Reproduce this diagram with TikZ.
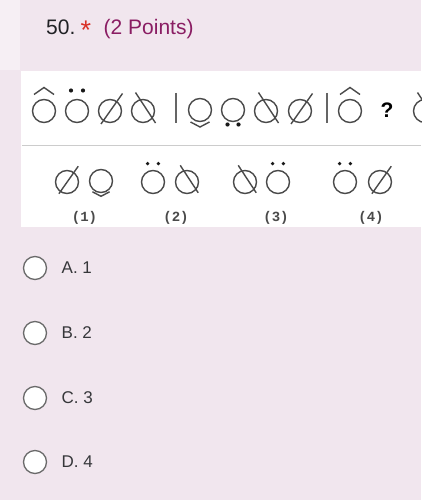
\documentclass[tikz,border=0pt]{standalone}
\usepackage{fontspec}
\usepackage{xcolor}
\setmainfont{Liberation Sans}
\newfontfamily\monofont{Liberation Mono}

\definecolor{pagebg}{HTML}{F1E6EE}
\definecolor{stripbg}{HTML}{F6EFF4}
\definecolor{inkgray}{HTML}{4A4A4A}
\definecolor{titleink}{HTML}{202124}
\definecolor{starred}{HTML}{D93025}
\definecolor{pointsink}{HTML}{8A1D63}
\definecolor{radiogray}{HTML}{6A6A6A}

\tikzset{
    sym/.style={draw=inkgray, line width=1.4pt},
    dot/.style={fill=black!90},
    sep/.style={draw=inkgray!85, line width=1.5pt},
    ring/.pic={\draw[sym] (0,0) circle (11.5);},
    hatring/.pic={\pic{ring}; \draw[sym] (-10,-16.5) -- (0,-23.5) -- (10,-16.5);},
    dotring/.pic={\pic{ring}; \fill[dot] (-6,-20.5) circle (2.1pt) (6,-20.5) circle (2.1pt);},
    slashring/.pic={\pic{ring}; \draw[sym] (-9,13) -- (12.5,-17.5);},
    bslashring/.pic={\pic{ring}; \draw[sym] (-7.5,-18.5) -- (12.5,12);},
    chinring/.pic={\pic{ring}; \draw[sym] (-9.5,12) -- (0,17) -- (9.5,12);},
    footring/.pic={\pic{ring}; \fill[dot] (-5.5,14.5) circle (2.1pt) (5.5,14.5) circle (2.1pt);},
    small/.style={scale=0.9},
    radio/.style={circle, draw=radiogray, fill=white, line width=1.3pt, minimum size=23pt, inner sep=0pt},
    opt/.style={anchor=west, inner sep=0pt, text=titleink!90, font=\fontsize{17}{20}\selectfont},
    tag/.style={inner sep=0pt, text=inkgray, font=\monofont\bfseries\fontsize{14}{16}\selectfont},
}

\begin{document}
\begin{tikzpicture}[x=1pt, y=-1pt]
    \useasboundingbox (0,0) rectangle (421,500);
    % page background
    \fill[pagebg] (0,0) rectangle (421,500);
    \fill[stripbg] (0,0) rectangle (20,70);

    % question header
    \node[anchor=base west, inner sep=0pt, text=titleink, font=\fontsize{21}{25}\selectfont] (qnum) at (46,34.5) {50.};
    \node[anchor=base west, inner sep=0pt, text=starred, font=\fontsize{27}{30}\selectfont] (star) at (80.5,39.5) {*};
    \node[anchor=base west, inner sep=0pt, text=pointsink, font=\fontsize{21}{25}\selectfont] (pts) at (103.5,34.5) {(2 Points)};

    % picture panel
    \fill[white] (21,71) rectangle (421,227);
    \draw[black!20, line width=1pt] (22,145.5) -- (421,145.5);

    % series
    \pic at (44,111) {hatring};
    \pic at (77,111) {dotring};
    \pic at (110,111) {slashring};
    \pic at (143,111) {bslashring};
    \draw[sep] (176,93) -- (176,123);
    \pic at (200,110) {chinring};
    \pic at (233,110) {footring};
    \pic at (266,111) {bslashring};
    \pic at (300,111) {slashring};
    \draw[sep] (327,93) -- (327,123);
    \pic at (350,111) {hatring};
    \node[inner sep=0pt, text=black, font=\bfseries\fontsize{21}{22}\selectfont] (ask) at (387,110) {?};
    \pic at (425,111) {bslashring};

    % choices
    \pic[small] at (67,182) {slashring};
    \pic[small] at (101,181) {chinring};
    \pic[small] at (153,182) {dotring};
    \pic[small] at (187,182) {bslashring};
    \pic[small] at (245,182) {bslashring};
    \pic[small] at (278,182) {dotring};
    \pic[small] at (345,182) {dotring};
    \pic[small] at (380,182) {slashring};
    \node[tag] (c1) at (84.5,218) {(1)};
    \node[tag] (c2) at (176,218) {(2)};
    \node[tag] (c3) at (276,218) {(3)};
    \node[tag] (c4) at (371,218) {(4)};

    % answers
    \foreach \y/\t/\n in {268/A. 1/a, 333/B. 2/b, 398/C. 3/c, 462/D. 4/d} {
        \node[radio] (r\n) at (35,\y) {};
        \node[opt] (o\n) at (61.5,\y) {\t};
    }
\end{tikzpicture}
\end{document}
